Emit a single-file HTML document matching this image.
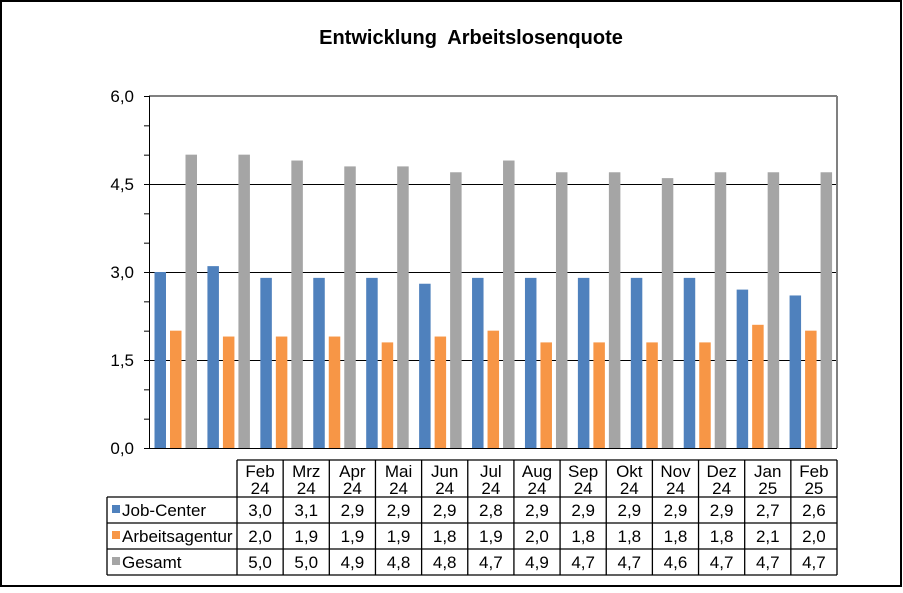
<!DOCTYPE html>
<html><head><meta charset="utf-8"><style>
body{margin:0;background:#fff}
svg text{font-family:"Liberation Sans",Arial,sans-serif}
</style></head><body>
<svg width="903" height="588" xmlns="http://www.w3.org/2000/svg">
<rect x="1" y="1" width="900" height="585" fill="#fff" stroke="#000" stroke-width="2"/>
<text x="471" y="44" font-size="20" font-weight="bold" text-anchor="middle">Entwicklung&#160; Arbeitslosenquote</text>
<g id="plot"></g>
</svg>
<script>
const NS="http://www.w3.org/2000/svg";
const g=document.getElementById('plot');
function el(t,a,txt){const e=document.createElementNS(NS,t);for(const k in a)e.setAttribute(k,a[k]);if(txt!==undefined)e.textContent=txt;g.appendChild(e);return e;}
const L=149,R=837,T=96,B=448;
const y=v=>B-(B-T)*v/6;
[1.5,3,4.5].forEach(v=>el('line',{x1:L,x2:R,y1:y(v)+.5,y2:y(v)+.5,stroke:'#000','stroke-width':1}));
el('line',{x1:L,x2:R,y1:T,y2:T,stroke:'#808080','stroke-width':2});
el('line',{x1:R,x2:R,y1:T,y2:B,stroke:'#808080','stroke-width':2});
const jc=[3.0,3.1,2.9,2.9,2.9,2.8,2.9,2.9,2.9,2.9,2.9,2.7,2.6];
const aa=[2.0,1.9,1.9,1.9,1.8,1.9,2.0,1.8,1.8,1.8,1.8,2.1,2.0];
const gs=[5.0,5.0,4.9,4.8,4.8,4.7,4.9,4.7,4.7,4.6,4.7,4.7,4.7];
const cw=(R-L)/13;
for(let i=0;i<13;i++){const c=L+i*cw;
[[jc,'#4F81BD',5.5],[aa,'#F79646',21],[gs,'#A5A5A5',36.5]].forEach(([d,col,o])=>{
el('rect',{x:c+o,y:y(d[i]),width:11.5,height:B-y(d[i]),fill:col});});}
el('line',{x1:L+.5,x2:L+.5,y1:T,y2:B,stroke:'#000','stroke-width':1});
el('line',{x1:L,x2:R,y1:B+.5,y2:B+.5,stroke:'#000','stroke-width':1});
for(let v=0;v<=6.001;v+=0.5)el('line',{x1:L-5,x2:L,y1:y(v)+.5,y2:y(v)+.5,stroke:'#000','stroke-width':1});
['0,0','1,5','3,0','4,5','6,0'].forEach((s,i)=>el('text',{x:134,y:y(i*1.5)+6,'font-size':17,'text-anchor':'end'},s));
const TL=237,TR=837,tw=(TR-TL)/13;
const months=[['Feb','24'],['Mrz','24'],['Apr','24'],['Mai','24'],['Jun','24'],['Jul','24'],['Aug','24'],['Sep','24'],['Okt','24'],['Nov','24'],['Dez','24'],['Jan','25'],['Feb','25']];
const rows=[460,497,523,549,575];
const st={stroke:'#000','stroke-width':1.3};
el('line',Object.assign({x1:TL,x2:TR,y1:460,y2:460},st));
rows.slice(1).forEach(r=>el('line',Object.assign({x1:107,x2:TR,y1:r,y2:r},st)));
el('line',Object.assign({x1:107,x2:107,y1:497,y2:575},st));
for(let i=0;i<=13;i++)el('line',Object.assign({x1:TL+i*tw,x2:TL+i*tw,y1:460,y2:575},st));
months.forEach((m,i)=>{const cx=TL+(i+.5)*tw;
el('text',{x:cx,y:477,'font-size':17,'text-anchor':'middle'},m[0]);
el('text',{x:cx,y:494,'font-size':17,'text-anchor':'middle'},m[1]);});
const names=['Job-Center','Arbeitsagentur','Gesamt'],cols=['#4F81BD','#F79646','#A5A5A5'],data=[jc,aa,gs];
for(let r=0;r<3;r++){const ty=rows[r+1]+19;
el('rect',{x:112,y:ty-11,width:8,height:8,fill:cols[r]});
el('text',{x:122,y:ty,'font-size':17},names[r]);
data[r].forEach((v,i)=>el('text',{x:TL+(i+.5)*tw,y:ty,'font-size':17,'text-anchor':'middle'},v.toFixed(1).replace('.',',')));}
</script>
</body></html>
